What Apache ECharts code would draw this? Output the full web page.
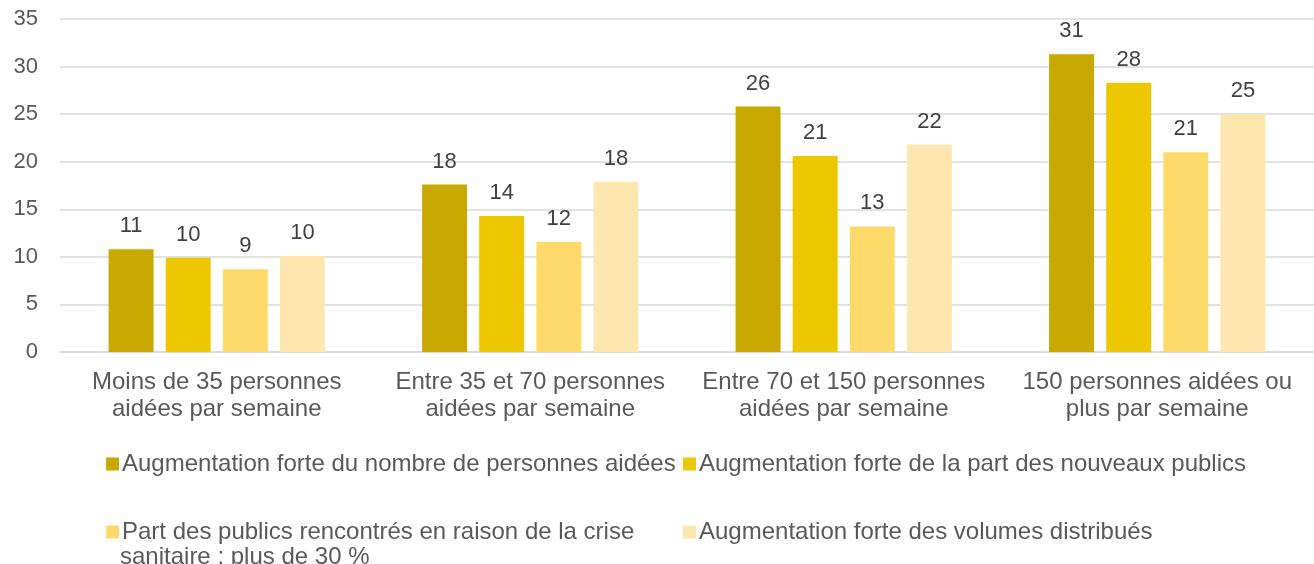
<!DOCTYPE html>
<html>
<head>
<meta charset="utf-8">
<script src="https://cdn.jsdelivr.net/npm/echarts@6/dist/echarts.min.js"></script>
<style>
  html, body { margin: 0; padding: 0; background: #fff; }
  #chart { width: 1314px; height: 564px; }
</style>
</head>
<body>
<div id="chart"></div>
<script>
// catégories (taille de la structure)
var categories = [
    'Moins de 35 personnes\naidées par semaine',
    'Entre 35 et 70 personnes\naidées par semaine',
    'Entre 70 et 150 personnes\naidées par semaine',
    '150 personnes aidées ou\nplus par semaine'
];
var seriesNames = [
    'Augmentation forte du nombre de personnes aidées',
    'Augmentation forte de la part des nouveaux publics',
    'Part des publics rencontrés en raison de la crise sanitaire : plus de 30 %',
    'Augmentation forte des volumes distribués'
];
var nombreAidees = [10.8, 17.6, 25.8, 31.3];
var nouveauxPublics = [9.9, 14.3, 20.6, 28.3];
var criseSanitaire = [8.7, 11.6, 13.2, 21.0];
var volumesDistribues = [10.1, 17.9, 21.8, 25.0];
var yTicks = [0, 5, 10, 15, 20, 25, 30, 35];

var colors = ['#C9A800', '#EDC700', '#FEDA6B', '#FDE7AE'];
var values = [nombreAidees, nouveauxPublics, criseSanitaire, volumesDistribues];
var FONT = 'Liberation Sans';

var myChart = echarts.init(document.getElementById('chart'));

var series = [];
values.forEach(function(arr, i){
    series.push({
        name: seriesNames[i],
        type: 'bar',
        data: arr,
        barGap: '27%',
        barCategoryGap: '31%',
        itemStyle: { color: colors[i] },
        label: {
            show: true,
            position: 'top',
            distance: 12,
            color: '#404040',
            fontSize: 22,
            fontFamily: FONT,
            formatter: function(p){ return Math.round(p.value); }
        }
    });
});

// une légende par élément pour caler la mise en page en 2 colonnes
var legendPos = [
    { left: 101, top: 447 },
    { left: 678, top: 447 },
    { left: 101, top: 515 },
    { left: 678, top: 515 }
];
var legends = legendPos.map(function(pos, i){
    return {
        left: pos.left,
        top: pos.top,
        data: [seriesNames[i]],
        icon: 'rect',
        itemWidth: 13,
        itemHeight: 13,
        itemGap: 0,
        selectedMode: false,
        textStyle: {
            color: '#595959',
            fontSize: 24,
            fontFamily: FONT,
            padding: [0, 0, 0, -2]
        },
        formatter: function(name){
            if (i === 2) return 'Part des publics rencontrés en raison de la crise';
            return name;
        }
    };
});

var option = {
    animation: false,
    textStyle: { fontFamily: FONT },
    grid: {
        left: 60,
        right: 0,
        top: 19,
        bottom: 212
    },
    legend: legends,
    xAxis: {
        type: 'category',
        data: categories,
        axisLine: { lineStyle: { color: '#D9D9D9', width: 1.5 } },
        axisTick: { show: false },
        axisLabel: {
            color: '#595959',
            fontSize: 24,
            lineHeight: 27,
            margin: 17,
            interval: 0
        }
    },
    yAxis: {
        type: 'value',
        min: 0,
        max: 35,
        interval: 5,
        axisLine: { show: false },
        axisTick: { show: false },
        splitLine: { lineStyle: { color: '#D9D9D9', width: 1.5 } },
        axisLabel: {
            color: '#595959',
            fontSize: 22,
            margin: 22,
            formatter: function(v){ return yTicks.indexOf(v) >= 0 ? String(v) : ''; }
        }
    },
    graphic: [{
        type: 'text',
        left: 120,
        top: 545,
        style: {
            text: 'sanitaire : plus de 30 %',
            fill: '#595959',
            font: '24px "Liberation Sans"'
        }
    }],
    series: series
};
myChart.setOption(option);
</script>
</body>
</html>
